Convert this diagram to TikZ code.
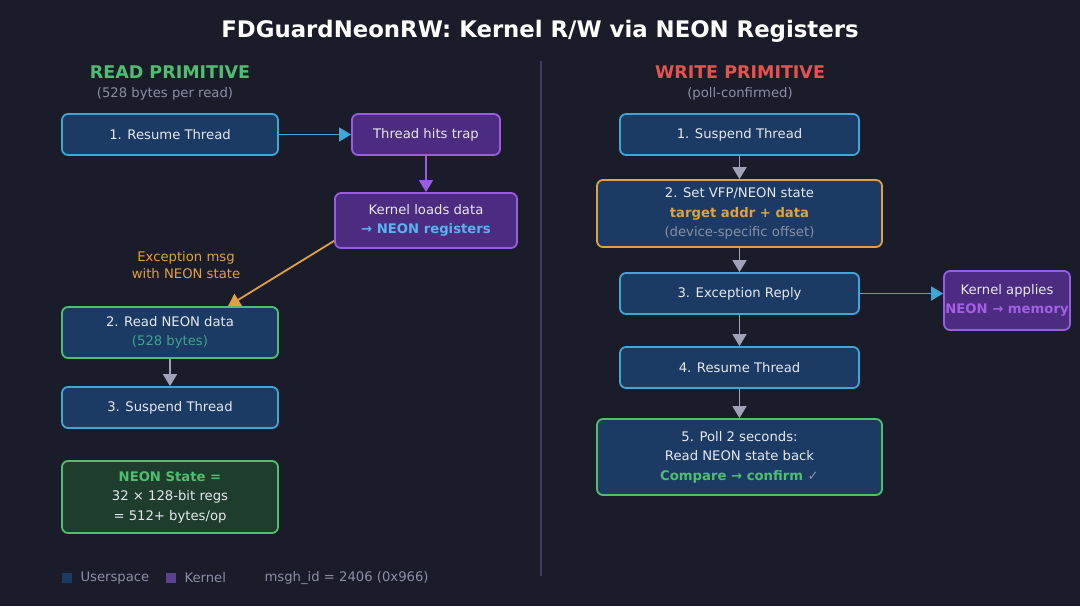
\documentclass[tikz,border=0pt]{standalone}
\usepackage{fontspec}
\setmainfont{DejaVu Sans}
\usetikzlibrary{arrows.meta}
\definecolor{bg}{HTML}{1B1C2A}
\definecolor{bluefill}{HTML}{1B3B64}
\definecolor{cyanb}{HTML}{3FA6D6}
\definecolor{purfill}{HTML}{4B2C80}
\definecolor{purb}{HTML}{9A5CE0}
\definecolor{greenb}{HTML}{4FBF6F}
\definecolor{greenfill}{HTML}{1F3D2C}
\definecolor{orangeb}{HTML}{E0A043}
\definecolor{redh}{HTML}{E0564E}
\definecolor{grayt}{HTML}{8A8FA3}
\definecolor{arrowg}{HTML}{A0A3B8}
\definecolor{lblue}{HTML}{5AB2EE}
\definecolor{tealt}{HTML}{3FA58A}
\definecolor{kpur}{HTML}{A45FE6}
\definecolor{divc}{HTML}{3A3D5C}
\definecolor{txt}{HTML}{E6E8F0}
\begin{document}
\begin{tikzpicture}[x=1pt,y=-1pt,
  box/.style={draw, line width=1.8pt, rounded corners=6pt, inner sep=0pt, align=center,
    text=txt, font=\fontsize{13.2}{19.5}\selectfont},
  ubox/.style={box, fill=bluefill, draw=cyanb},
  kbox/.style={box, fill=purfill, draw=purb},
  gbox/.style={box, fill=bluefill, draw=greenb},
  flow/.style={line width=1.8pt, draw=arrowg, -{Triangle[width=14pt,length=12pt]}},
  header/.style={font=\bfseries\fontsize{17.5}{20}\selectfont},
  sub/.style={text=grayt, font=\fontsize{13.2}{15}\selectfont},
]
\fill[bg] (0,0) rectangle (1080,606);
\useasboundingbox (0,0) rectangle (1080,606);

\node[text=white, font=\bfseries\fontsize{22.8}{26}\selectfont] (title) at (540,31) {FDGuardNeonRW: Kernel R/W via NEON Registers};

\draw[divc, line width=2pt] (541,61) -- (541,576);

% READ side
\node[header, text=greenb] (rh) at (170,72) {READ PRIMITIVE};
\node[sub] (rs) at (165,94) {(528 bytes per read)};

\node[ubox, minimum width=216pt, minimum height=41pt] (r1) at (170,134.5) {1. Resume Thread};
\node[kbox, minimum width=148pt, minimum height=41pt] (trap) at (426,134.5) {Thread hits trap};
\node[kbox, minimum width=182pt, minimum height=55pt] (kload) at (426,220.5) {Kernel loads data\\{\bfseries\color{lblue}→ NEON registers}};
\node[gbox, minimum width=216pt, minimum height=51pt] (r2) at (170,332.5) {2. Read NEON data\\{\color{tealt}(528 bytes)}};
\node[ubox, minimum width=216pt, minimum height=41pt] (r3) at (170,407.5) {3. Suspend Thread};
\node[box, fill=greenfill, draw=greenb, minimum width=216pt, minimum height=72pt] (ns) at (170,497) {{\bfseries\color{greenb}NEON State =}\\32 × 128-bit regs\\= 512+ bytes/op};

\node[text=orangeb, align=center, font=\fontsize{13.2}{16.5}\selectfont] (exl) at (186,265) {Exception msg\\with NEON state};

\draw[flow, draw=cyanb] (r1) -- (trap);
\draw[flow, draw=purb] (trap) -- (kload);
\draw[flow, draw=orangeb] ([yshift=8pt]kload.south west) -- ([xshift=58pt]r2.north);
\draw[flow] (r2) -- (r3);

% legend
\node[fill=bluefill, minimum size=10pt, inner sep=0pt] (lu) at (67,578) {};
\node[sub, anchor=west] (lut) at (77,578) {Userspace};
\node[fill=purfill!90!white, minimum size=10pt, inner sep=0pt] (lk) at (171,578) {};
\node[sub, anchor=west] (lkt) at (181,578) {Kernel};
\node[sub, anchor=west] (msg) at (261,578) {msgh\_id = 2406 (0x966)};

% WRITE side
\node[header, text=redh] (wh) at (740,72) {WRITE PRIMITIVE};
\node[sub] (ws) at (740,94) {(poll-confirmed)};

\node[ubox, minimum width=239pt, minimum height=41pt] (w1) at (739.5,134.5) {1. Suspend Thread};
\node[box, fill=bluefill, draw=orangeb, minimum width=285pt, minimum height=67pt] (w2) at (739.5,213.5) {2. Set VFP/NEON state\\{\bfseries\color{orangeb}target addr + data}\\{\color{grayt}(device-specific offset)}};
\node[ubox, minimum width=239pt, minimum height=41pt] (w3) at (739.5,293.5) {3. Exception Reply};
\node[kbox, minimum width=126pt, minimum height=59pt] (kapp) at (1007,300.5) {Kernel applies\\\makebox[0pt]{\bfseries\color{kpur}NEON → memory}};
\node[ubox, minimum width=239pt, minimum height=41pt] (w4) at (739.5,367.5) {4. Resume Thread};
\node[gbox, minimum width=285pt, minimum height=76pt] (w5) at (739.5,457) {5. Poll 2 seconds:\\Read NEON state back\\{\bfseries\color{greenb}Compare → confirm {\mdseries\color{grayt}✓}}};

\draw[flow] (w1) -- (w2);
\draw[flow] (w2) -- (w3);
\draw[flow] (w3) -- (w4);
\draw[flow] (w4) -- (w5);
\draw[flow, draw=cyanb] (w3) -- (w3 -| kapp.west);
\end{tikzpicture}
\end{document}
